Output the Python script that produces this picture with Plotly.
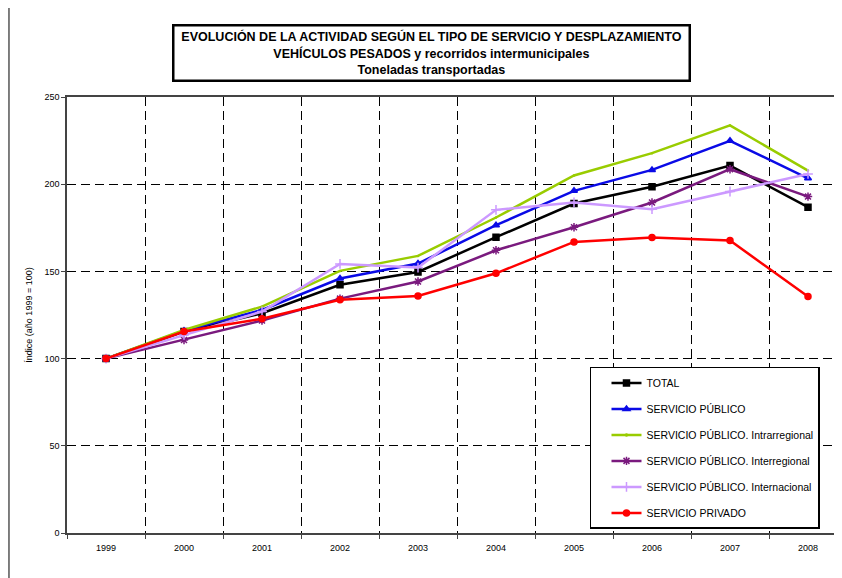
import plotly.graph_objects as go

years = ["1999", "2000", "2001", "2002", "2003", "2004", "2005", "2006", "2007", "2008"]

total = [100, 115.5, 126.0, 142.3, 149.7, 169.6, 188.9, 198.5, 210.7, 186.8]
publico = [100, 116.0, 127.9, 145.9, 154.5, 176.5, 196.2, 208.2, 224.9, 203.4]
intrarregional = [100, 116.4, 129.8, 150.3, 158.9, 180.9, 205.0, 217.8, 233.7, 207.8]
interregional = [100, 110.7, 121.8, 134.4, 144.2, 162.1, 175.3, 189.5, 208.6, 192.9]
internacional = [100, 113.6, 127.0, 154.3, 152.2, 185.3, 189.5, 185.7, 195.8, 205.9]
privado = [100, 115.5, 122.9, 133.7, 135.9, 148.9, 166.9, 169.4, 167.7, 135.6]

series = [
    ("TOTAL", total, "#000000", "square", 6),
    ("SERVICIO PÚBLICO", publico, "#0A0AE6", "triangle-up", 6),
    ("SERVICIO PÚBLICO. Intrarregional", intrarregional, "#99CC00", "circle", 1),
    ("SERVICIO PÚBLICO. Interregional", interregional, "#7A1A7E", "asterisk-open", 7),
    ("SERVICIO PÚBLICO. Internacional", internacional, "#CC99FF", "cross-thin-open", 7),
    ("SERVICIO PRIVADO", privado, "#FF0000", "circle", 6),
]

fig = go.Figure()
for i, (name, vals, color, sym, size) in enumerate(series):
    fig.add_trace(go.Scatter(
        x=years, y=vals, name=name, mode="lines+markers",
        line=dict(color=color, width=2.5),
        marker=dict(symbol=sym, size=size, color=color, line=dict(color=color, width=1.5)),
        legendgroup=f"g{i}",
    ))

font = "Liberation Sans, Arial, sans-serif"
grid_dash = "9px,5px"
fig.update_layout(
    width=842, height=578,
    paper_bgcolor="white", plot_bgcolor="white",
    margin=dict(l=59, r=3, t=89, b=53),
    font=dict(family=font, size=9, color="black"),
    showlegend=True,
    legend=dict(
        x=0.6705, y=0.381, xanchor="left", yanchor="top",
        bordercolor="black", borderwidth=1.5, bgcolor="white",
        font=dict(size=10.5, family=font), tracegroupgap=7,
        itemwidth=30, indentation=15,
    ),
    xaxis=dict(
        type="category", tickson="boundaries", range=[-0.5, 9.5],
        showgrid=True, gridcolor="black", griddash=grid_dash, gridwidth=1,
        showline=True, linecolor="#444", linewidth=1.5, mirror=True,
        ticks="outside", ticklen=4, tickcolor="#444",
        tickfont=dict(size=9), zeroline=False, ticklabelstandoff=5,
    ),
    yaxis=dict(
        range=[0, 250], tickvals=[0, 50, 100, 150, 200, 250],
        showgrid=True, gridcolor="black", griddash=grid_dash, gridwidth=1,
        showline=True, linecolor="#444", linewidth=1.5,
        ticks="outside", ticklen=4, tickcolor="#444",
        tickfont=dict(size=9), zeroline=False,
        title=dict(text="Índice (año 1999 = 100)", font=dict(size=9), standoff=10),
    ),
    annotations=[dict(
        text="<b>EVOLUCIÓN DE LA ACTIVIDAD SEGÚN EL TIPO DE SERVICIO Y DESPLAZAMIENTO</b><br>"
             "<b>VEHÍCULOS PESADOS y recorridos intermunicipales</b><br>"
             "<b>Toneladas transportadas</b>",
        xref="paper", yref="paper", x=0.4673, y=1.102, xanchor="center", yanchor="middle",
        showarrow=False, font=dict(size=12.5, family=font), align="center",
        bordercolor="black", borderwidth=2.5, borderpad=3, bgcolor="white",
        width=508, height=47,
    )],
    shapes=[dict(type="line", xref="paper", yref="paper", x0=-0.0744, x1=-0.0744, y0=-0.2, y1=1.3,
                 line=dict(color="#555", width=1.5))],
)

fig.write_html("out.html")
